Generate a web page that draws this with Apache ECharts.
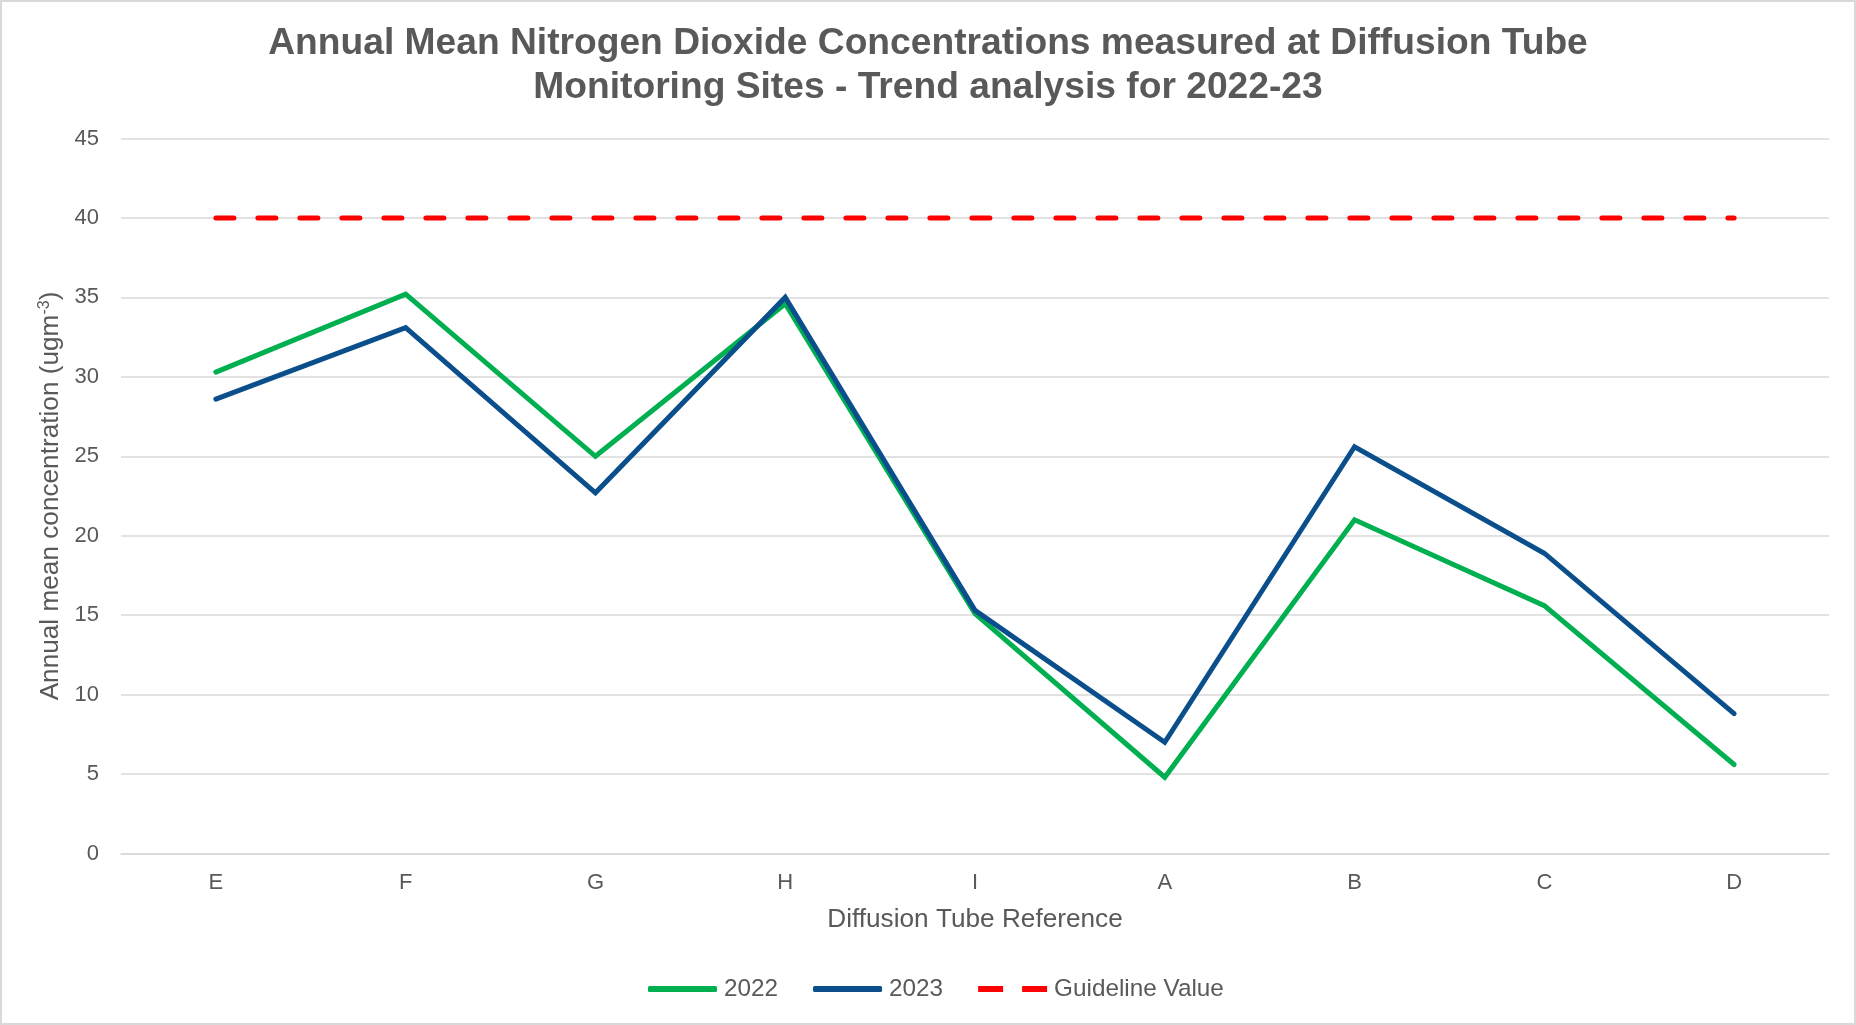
<!DOCTYPE html>
<html><head><meta charset="utf-8">
<script src="https://cdn.jsdelivr.net/npm/echarts@6/dist/echarts.min.js"></script>
<style>html,body{margin:0;padding:0;background:#fff}#c{width:1856px;height:1025px}</style>
</head><body><div id="c"></div>
<script>
const categories = ['E', 'F', 'G', 'H', 'I', 'A', 'B', 'C', 'D'];
const values2022 = [30.3, 35.2, 25.0, 34.6, 15.1, 4.8, 21.0, 15.6, 5.6];
const values2023 = [28.6, 33.1, 22.7, 35.0, 15.3, 7.0, 25.6, 18.9, 8.8];
const guideline = [40, 40, 40, 40, 40, 40, 40, 40, 40];
const seriesNames = ['2022', '2023', 'Guideline Value'];
const yMin = 0, yMax = 45, yInterval = 5;

const font = '"Liberation Sans", Arial, sans-serif';
const grey = '#595959';
const chart = echarts.init(document.getElementById('c'), null, {renderer: 'canvas'});
chart.setOption({
  animation: false,
  backgroundColor: '#fff',
  graphic: [{
    type: 'rect', shape: {x: 1, y: 1, width: 1854, height: 1023},
    style: {fill: 'none', stroke: '#d9d9d9', lineWidth: 2}, silent: true, z: -1
  }],
  title: {
    text: 'Annual Mean Nitrogen Dioxide Concentrations measured at Diffusion Tube\nMonitoring Sites - Trend analysis for 2022-23',
    left: 'center', top: 16.5,
    textStyle: {fontFamily: font, fontWeight: 'bold', fontSize: 37.2, lineHeight: 44, color: grey}
  },
  legend: {
    bottom: 19, left: 643,
    itemWidth: 69, itemHeight: 6, itemGap: 35,
    textStyle: {fontFamily: font, fontSize: 24.3, color: grey, padding: [0, 0, 0, 2]},
    data: [
      {name: seriesNames[0], icon: 'roundRect'},
      {name: seriesNames[1], icon: 'roundRect'},
      {name: seriesNames[2], icon: 'path://M0,0h25v6h-25z M44,0h25v6h-25z'}
    ]
  },
  grid: {left: 121, right: 27, top: 138.5, bottom: 171.5, containLabel: false},
  xAxis: {
    type: 'category', data: categories, boundaryGap: true,
    name: 'Diffusion Tube Reference', nameLocation: 'middle', nameGap: 53,
    nameTextStyle: {fontFamily: font, fontSize: 26.2, color: grey},
    axisLine: {show: true, lineStyle: {color: '#d9d9d9', width: 1.5}},
    axisTick: {show: false},
    axisLabel: {fontFamily: font, fontSize: 22, color: grey, margin: 18}
  },
  yAxis: {
    type: 'value', min: yMin, max: yMax, interval: yInterval,
    name: 'Annual mean concentration (ugm{sup|-3})', nameLocation: 'middle', nameGap: 55,
    nameTextStyle: {fontFamily: font, fontSize: 26.2, color: grey,
      rich: {sup: {fontFamily: font, fontSize: 16, color: grey, padding: [0, 0, 13, 0]}}},
    axisLine: {show: false}, axisTick: {show: false},
    axisLabel: {fontFamily: font, fontSize: 22, color: grey, margin: 22},
    splitLine: {lineStyle: {color: '#d9d9d9', width: 1.5}}
  },
  series: [
    {name: seriesNames[0], type: 'line', data: values2022, symbol: 'none',
     lineStyle: {color: '#00B050', width: 5, cap: 'round', join: 'miter'}, itemStyle: {color: '#00B050'}},
    {name: seriesNames[1], type: 'line', data: values2023, symbol: 'none',
     lineStyle: {color: '#0A4F8C', width: 5, cap: 'round', join: 'miter'}, itemStyle: {color: '#0A4F8C'}},
    {name: seriesNames[2], type: 'line', data: guideline, symbol: 'none',
     lineStyle: {color: '#FF0000', width: 5, type: [18, 24], cap: 'round'}, itemStyle: {color: '#FF0000'}}
  ]
});
</script></body></html>
